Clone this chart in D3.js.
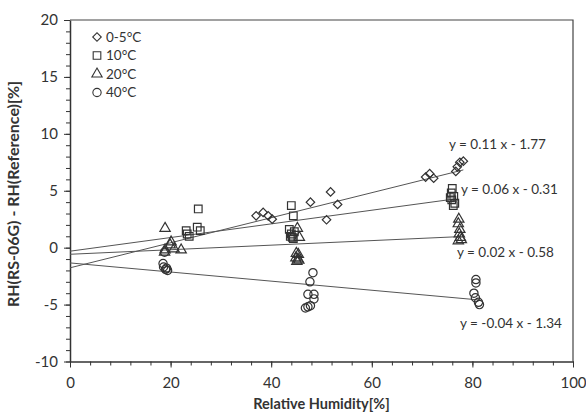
<!DOCTYPE html>
<html>
<head>
<meta charset="utf-8">
<script src="https://cdn.jsdelivr.net/npm/d3@7"></script>
<style>
  body { margin: 0; background: #fff; }
  svg text { font-family: Lato, "Open Sans", sans-serif; fill: #333; }
</style>
</head>
<body>
<svg id="chart" width="586" height="417"></svg>
<script>
// ----- data -----
const t05 = [[37.0,2.8],[38.4,3.1],[39.4,2.8],[40.2,2.5],[47.8,4.0],[51.8,4.9],[53.2,3.8],[51.0,2.45],
             [70.7,6.2],[71.5,6.5],[72.3,6.1],[76.7,6.7],[77.0,7.1],[77.5,7.5],[78.2,7.6]];
const t10 = [[25.5,3.4],[23.1,1.5],[23.7,1.0],[25.3,1.8],[25.9,1.5],[23.3,1.2],
             [44.0,3.7],[44.4,2.8],[43.6,1.6],[44.0,1.2],[44.2,0.9],[44.6,1.4],[44.4,0.8],[43.8,1.0],
             [76.0,5.2],[75.8,4.8],[76.3,4.5],[75.9,4.2],[76.5,3.9],[76.2,3.7],[75.6,4.4]];
const t20 = [[18.9,1.7],[20.1,0.5],[18.9,-0.2],[18.8,-0.4],[20.7,-0.1],[22.1,-0.2],[19.9,0.25],
             [45.2,1.7],[45.6,0.9],[45.0,-0.5],[45.4,-0.6],[44.9,-0.9],[45.3,-1.0],[45.1,-1.2],[45.5,-1.1],
             [77.3,2.5],[77.2,2.1],[77.5,1.6],[77.4,1.2],[77.6,0.9],[77.8,0.7],[77.2,0.6]];
const t40 = [[18.8,-0.4],[18.5,-1.4],[18.6,-1.7],[19.0,-1.9],[19.4,-2.0],[19.2,-1.8],
             [48.3,-2.2],[47.7,-3.0],[47.3,-4.1],[48.5,-4.1],[48.5,-4.5],[46.8,-5.3],[47.3,-5.2],[47.8,-5.1],
             [80.7,-2.8],[80.7,-3.1],[80.3,-4.0],[80.6,-4.4],[81.2,-4.8],[81.4,-5.0]];

const seriesNames = ["0-5°C", "10°C", "20°C", "40°C"];
const slopes = [0.11, 0.06, 0.02, -0.04];
const intercepts = [-1.77, -0.31, -0.58, -1.34];
const fitLabels = ["y = 0.11 x - 1.77", "y = 0.06 x - 0.31", "y = 0.02 x - 0.58", "y = -0.04 x - 1.34"];
const xTicks = [0, 20, 40, 60, 80, 100];
const yTicks = [-10, -5, 0, 5, 10, 15, 20];

const allSeries = [t05, t10, t20, t40];

const svg = d3.select("#chart");
const margins = {top: 20, right: 13, bottom: 55, left: 70};
const chartWidth = svg.attr("width") - margins.left - margins.right;
const chartHeight = svg.attr("height") - margins.top - margins.bottom;

const xScale = d3.scaleLinear().domain([0, 100]).range([0, chartWidth]);
const yScale = d3.scaleLinear().domain([-10, 20]).range([chartHeight - 0.5, 0]);

const chartArea = svg.append("g")
  .attr("transform", `translate(${margins.left},${margins.top})`);

// frame (top + right)
chartArea.append("path")
  .attr("d", `M0,0H${chartWidth}V${yScale(-10)}`)
  .attr("fill", "none").attr("stroke", "#444").attr("stroke-width", 1.2);

// minor ticks
chartArea.append("g")
  .attr("transform", `translate(0,${yScale(-10)})`)
  .call(d3.axisBottom(xScale).tickValues(d3.range(0, 101, 4)).tickSize(4).tickFormat(""))
  .call(g => g.select(".domain").remove())
  .selectAll("line").attr("stroke", "#333");
chartArea.append("g")
  .call(d3.axisLeft(yScale).tickValues(d3.range(-10, 21, 1)).tickSize(4).tickFormat(""))
  .call(g => g.select(".domain").remove())
  .selectAll("line").attr("stroke", "#333");

// major axes
const xAxis = chartArea.append("g")
  .attr("transform", `translate(0,${yScale(-10)})`)
  .call(d3.axisBottom(xScale).tickValues(xTicks).tickSize(6).tickSizeOuter(0).tickPadding(10)
        .tickFormat(d => String(d)));
const yAxis = chartArea.append("g")
  .call(d3.axisLeft(yScale).tickValues(yTicks).tickSize(6).tickSizeOuter(0).tickPadding(6)
        .tickFormat(d => String(d)));
[xAxis, yAxis].forEach(a => {
  a.select(".domain").attr("stroke", "#333").attr("stroke-width", 1.5);
  a.selectAll("line").attr("stroke", "#333");
  a.selectAll("text").style("font-size", "15px").attr("fill", "#3a3a3a");
});

// fitted lines
allSeries.forEach((s, i) => {
  const xEnd = d3.max(s, d => d[0]);
  chartArea.append("line")
    .attr("x1", xScale(0)).attr("y1", yScale(intercepts[i]))
    .attr("x2", xScale(xEnd)).attr("y2", yScale(slopes[i] * xEnd + intercepts[i]))
    .attr("stroke", "#555").attr("stroke-width", 1);
});

// markers
const symbols = [
  d3.symbol().type(d3.symbolSquare).size(36),
  d3.symbol().type(d3.symbolSquare).size(58),
  d3.symbol().type(d3.symbolTriangle).size(46),
  d3.symbol().type(d3.symbolCircle).size(54)
];
const rot = [45, 0, 0, 0];
allSeries.forEach((s, i) => {
  chartArea.append("g").selectAll("path")
    .data(s)
    .join("path")
    .attr("d", symbols[i])
    .attr("transform", d => `translate(${xScale(d[0])},${yScale(d[1])}) rotate(${rot[i]})`)
    .attr("fill", "none").attr("stroke", "#333").attr("stroke-width", 1.2);
});

// equation labels
const labelPos = [[379, 144], [391, 189], [387, 252], [390, 323]];
fitLabels.forEach((t, i) => {
  svg.append("text")
    .attr("x", labelPos[i][0] + margins.left).attr("y", labelPos[i][1])
    .attr("dy", "0.35em")
    .style("font-size", "13.5px")
    .text(t);
});

// legend
const legend = svg.append("g").attr("transform", "translate(97,37)");
seriesNames.forEach((n, i) => {
  const g = legend.append("g").attr("transform", `translate(0,${i * 18.5})`);
  g.append("path").attr("d", symbols[i])
    .attr("transform", `rotate(${rot[i]})`)
    .attr("fill", "none").attr("stroke", "#333").attr("stroke-width", 1.1);
  g.append("text").attr("x", 9).attr("dy", "0.35em").style("font-size", "13.5px").text(n);
});

// axis titles
svg.append("text")
  .attr("x", margins.left + chartWidth / 2).attr("y", 409)
  .attr("text-anchor", "middle").style("font-size", "14.5px").style("font-weight", "bold")
  .text("Relative Humidity[%]");
svg.append("text")
  .attr("transform", `translate(19,194) rotate(-90)`)
  .attr("text-anchor", "middle").style("font-size", "16px").style("font-weight", "bold")
  .text("RH(RS-06G) - RH(Reference)[%]");
</script>
</body>
</html>
